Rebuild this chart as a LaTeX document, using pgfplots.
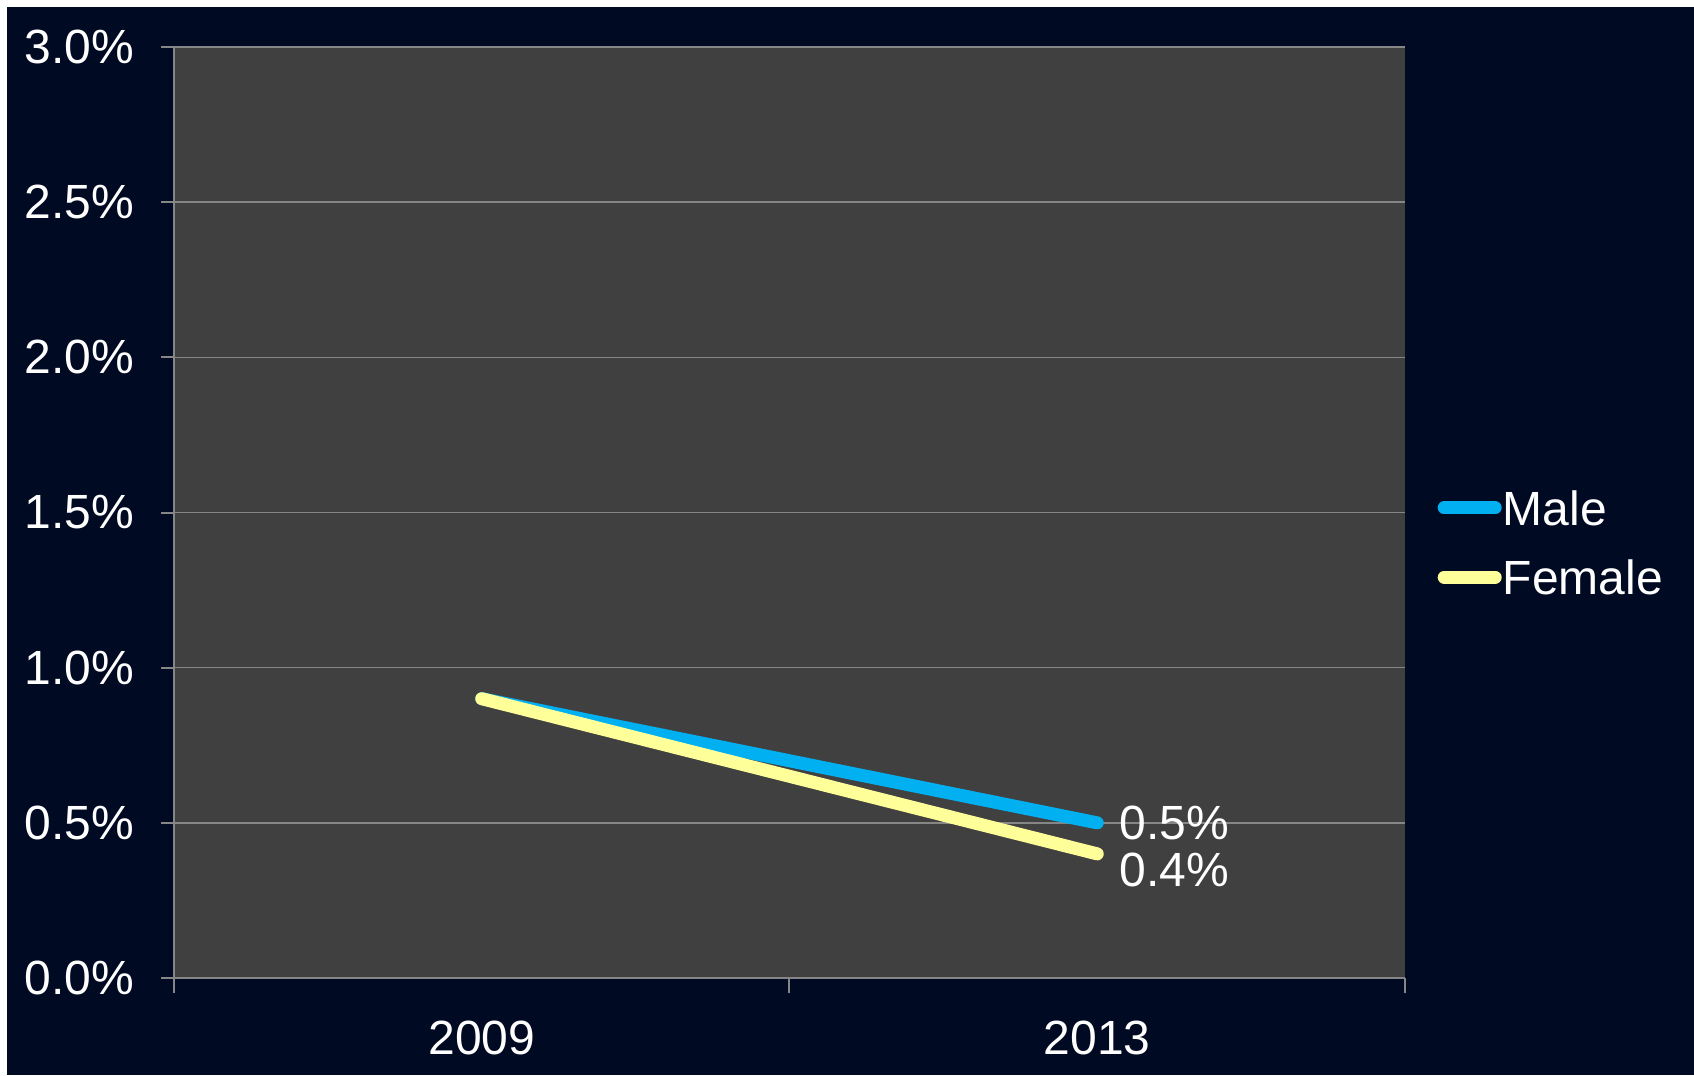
\documentclass[border=0pt]{standalone}
\usepackage{pgfplots}
\pgfplotsset{compat=1.18}
\usepackage{fontspec}
\setmainfont{Liberation Sans}
\definecolor{bgnavy}{RGB}{0,10,35}
\definecolor{plotbg}{RGB}{64,64,64}
\definecolor{gridc}{RGB}{134,134,134}
\definecolor{male}{RGB}{0,176,240}
\definecolor{female}{RGB}{255,255,153}
\newcommand{\lf}{\fontsize{12}{14.4}\selectfont}
\begin{document}
\begin{tikzpicture}
\useasboundingbox (-43.5pt,-24.25pt) rectangle (380pt,244.5pt);
\fill[white] (-43.5pt,-24.25pt) rectangle (380pt,244.5pt);
\fill[bgnavy] (-41.75pt,-24.25pt) rectangle (380pt,242.75pt);
\begin{axis}[
  at={(0,0)}, anchor=south west,
  scale only axis, width=307.75pt, height=232.75pt,
  xmin=0, xmax=2, ymin=0, ymax=3,
  axis lines*=left,
  axis line style={draw=gridc, line width=0.5pt},
  axis background/.style={fill=plotbg},
  ymajorgrids, grid style={draw=gridc, line width=0.4pt},
  ytick={0,0.5,1,1.5,2,2.5,3},
  yticklabels={0.0\%,0.5\%,1.0\%,1.5\%,2.0\%,2.5\%,3.0\%},
  xtick={0.5,1.5}, xticklabels={2009,2013},
  minor xtick={0,1,2},
  tick align=outside,
  major tick length=3.25pt, minor tick length=3.75pt,
  tick style={draw=gridc, line width=0.5pt},
  x tick style={draw=none},
  minor x tick style={draw=gridc, line width=0.5pt},
  every tick label/.append style={font=\lf, text=white},
  yticklabel style={xshift=-3.25pt},
  xticklabel style={yshift=-4pt},
  legend style={at={(1.02063,0.46778)}, anchor=west, draw=none, fill=none,
    inner sep=0pt, row sep=8.65pt, font=\lf, text=white,
    nodes={inner sep=0pt, text depth=0pt}, cells={anchor=west}},
  legend image code/.code={\path (0pt,0pt) (14.65pt,0pt);
    \draw[#1, line cap=round] (1.625pt,0pt) -- (14.375pt,0pt);},
]
\addplot[male, line width=3.25pt, line cap=round] coordinates {(0.5,0.9) (1.5,0.5)};
\addlegendentry{Male}
\addplot[female, line width=3.25pt, line cap=round] coordinates {(0.5,0.9) (1.5,0.4)};
\addlegendentry{Female}
\node[anchor=west, inner sep=0pt, text=white, font=\lf, xshift=5.4pt] at (axis cs:1.5,0.5) {0.5\%};
\node[anchor=west, inner sep=0pt, text=white, font=\lf, xshift=5.4pt, yshift=-4pt] at (axis cs:1.5,0.4) {0.4\%};
\end{axis}
\end{tikzpicture}
\end{document}
